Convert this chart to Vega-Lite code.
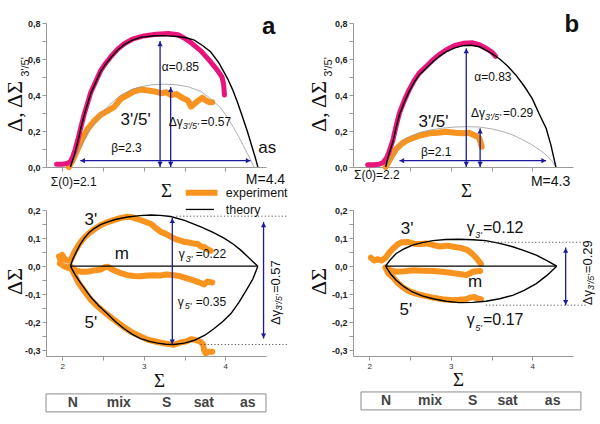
{
"$schema":"https://vega.github.io/schema/vega-lite/v6.json",
"background":"white",
"padding":{"left":3,"top":12,"right":2,"bottom":2},
"config":{"view":{"stroke":null},"font":"Liberation Sans","axis":{"grid":false}},
"datasets":{"d":[
{"p":"ta","k":"c","s":"t","x":2.10,"y":0},{"p":"ta","k":"c","s":"t","x":2.15,"y":0.07},{"p":"ta","k":"c","s":"t","x":2.19,"y":0.14},{"p":"ta","k":"c","s":"t","x":2.23,"y":0.22},{"p":"ta","k":"c","s":"t","x":2.27,"y":0.29},{"p":"ta","k":"c","s":"t","x":2.31,"y":0.35},{"p":"ta","k":"c","s":"t","x":2.35,"y":0.41},{"p":"ta","k":"c","s":"t","x":2.41,"y":0.47},{"p":"ta","k":"c","s":"t","x":2.47,"y":0.53},{"p":"ta","k":"c","s":"t","x":2.53,"y":0.57},{"p":"ta","k":"c","s":"t","x":2.60,"y":0.61},{"p":"ta","k":"c","s":"t","x":2.68,"y":0.65},{"p":"ta","k":"c","s":"t","x":2.76,"y":0.68},{"p":"ta","k":"c","s":"t","x":2.86,"y":0.705},{"p":"ta","k":"c","s":"t","x":2.96,"y":0.72},{"p":"ta","k":"c","s":"t","x":3.10,"y":0.728},{"p":"ta","k":"c","s":"t","x":3.25,"y":0.73},{"p":"ta","k":"c","s":"t","x":3.40,"y":0.725},{"p":"ta","k":"c","s":"t","x":3.52,"y":0.718},{"p":"ta","k":"c","s":"t","x":3.62,"y":0.705},{"p":"ta","k":"c","s":"t","x":3.72,"y":0.675},{"p":"ta","k":"c","s":"t","x":3.82,"y":0.64},{"p":"ta","k":"c","s":"t","x":3.92,"y":0.58},{"p":"ta","k":"c","s":"t","x":4.03,"y":0.49},{"p":"ta","k":"c","s":"t","x":4.09,"y":0.43},{"p":"ta","k":"c","s":"t","x":4.15,"y":0.36},{"p":"ta","k":"c","s":"t","x":4.21,"y":0.28},{"p":"ta","k":"c","s":"t","x":4.27,"y":0.20},{"p":"ta","k":"c","s":"t","x":4.33,"y":0.11},{"p":"ta","k":"c","s":"t","x":4.37,"y":0.05},{"p":"ta","k":"c","s":"t","x":4.40,"y":0},
{"p":"ta","k":"c","s":"p","x":1.93,"y":0.015},{"p":"ta","k":"c","s":"p","x":2.00,"y":0.015},{"p":"ta","k":"c","s":"p","x":2.06,"y":0.02},{"p":"ta","k":"c","s":"p","x":2.10,"y":0.03},{"p":"ta","k":"c","s":"p","x":2.13,"y":0.06},{"p":"ta","k":"c","s":"p","x":2.16,"y":0.10},{"p":"ta","k":"c","s":"p","x":2.19,"y":0.15},{"p":"ta","k":"c","s":"p","x":2.23,"y":0.225},{"p":"ta","k":"c","s":"p","x":2.27,"y":0.295},{"p":"ta","k":"c","s":"p","x":2.31,"y":0.355},{"p":"ta","k":"c","s":"p","x":2.35,"y":0.415},{"p":"ta","k":"c","s":"p","x":2.41,"y":0.475},{"p":"ta","k":"c","s":"p","x":2.47,"y":0.535},{"p":"ta","k":"c","s":"p","x":2.53,"y":0.575},{"p":"ta","k":"c","s":"p","x":2.60,"y":0.615},{"p":"ta","k":"c","s":"p","x":2.68,"y":0.655},{"p":"ta","k":"c","s":"p","x":2.76,"y":0.685},{"p":"ta","k":"c","s":"p","x":2.86,"y":0.71},{"p":"ta","k":"c","s":"p","x":3.00,"y":0.728},{"p":"ta","k":"c","s":"p","x":3.15,"y":0.738},{"p":"ta","k":"c","s":"p","x":3.30,"y":0.742},{"p":"ta","k":"c","s":"p","x":3.42,"y":0.735},{"p":"ta","k":"c","s":"p","x":3.50,"y":0.715},{"p":"ta","k":"c","s":"p","x":3.58,"y":0.69},{"p":"ta","k":"c","s":"p","x":3.70,"y":0.645},{"p":"ta","k":"c","s":"p","x":3.80,"y":0.595},{"p":"ta","k":"c","s":"p","x":3.90,"y":0.54},{"p":"ta","k":"c","s":"p","x":3.96,"y":0.50},{"p":"ta","k":"c","s":"p","x":3.98,"y":0.46},{"p":"ta","k":"c","s":"p","x":3.99,"y":0.40},
{"p":"ta","k":"c","s":"o","x":2.08,"y":0},{"p":"ta","k":"c","s":"o","x":2.13,"y":0.04},{"p":"ta","k":"c","s":"o","x":2.19,"y":0.10},{"p":"ta","k":"c","s":"o","x":2.25,"y":0.16},{"p":"ta","k":"c","s":"o","x":2.31,"y":0.21},{"p":"ta","k":"c","s":"o","x":2.38,"y":0.25},{"p":"ta","k":"c","s":"o","x":2.47,"y":0.29},{"p":"ta","k":"c","s":"o","x":2.55,"y":0.31},{"p":"ta","k":"c","s":"o","x":2.64,"y":0.335},{"p":"ta","k":"c","s":"o","x":2.72,"y":0.38},{"p":"ta","k":"c","s":"o","x":2.80,"y":0.40},{"p":"ta","k":"c","s":"o","x":2.88,"y":0.42},{"p":"ta","k":"c","s":"o","x":2.96,"y":0.43},{"p":"ta","k":"c","s":"o","x":3.05,"y":0.425},{"p":"ta","k":"c","s":"o","x":3.13,"y":0.42},{"p":"ta","k":"c","s":"o","x":3.21,"y":0.41},{"p":"ta","k":"c","s":"o","x":3.28,"y":0.415},{"p":"ta","k":"c","s":"o","x":3.33,"y":0.40},{"p":"ta","k":"c","s":"o","x":3.40,"y":0.405},{"p":"ta","k":"c","s":"o","x":3.49,"y":0.38},{"p":"ta","k":"c","s":"o","x":3.54,"y":0.37},{"p":"ta","k":"c","s":"o","x":3.58,"y":0.335},{"p":"ta","k":"c","s":"o","x":3.62,"y":0.35},{"p":"ta","k":"c","s":"o","x":3.67,"y":0.37},{"p":"ta","k":"c","s":"o","x":3.72,"y":0.385},{"p":"ta","k":"c","s":"o","x":3.76,"y":0.37},{"p":"ta","k":"c","s":"o","x":3.80,"y":0.36},{"p":"ta","k":"c","s":"o","x":3.84,"y":0.36},
{"p":"ta","k":"c","s":"g","x":2.10,"y":0},{"p":"ta","k":"c","s":"g","x":2.23,"y":0.12},{"p":"ta","k":"c","s":"g","x":2.35,"y":0.22},{"p":"ta","k":"c","s":"g","x":2.47,"y":0.29},{"p":"ta","k":"c","s":"g","x":2.60,"y":0.355},{"p":"ta","k":"c","s":"g","x":2.72,"y":0.40},{"p":"ta","k":"c","s":"g","x":2.85,"y":0.43},{"p":"ta","k":"c","s":"g","x":2.96,"y":0.445},{"p":"ta","k":"c","s":"g","x":3.10,"y":0.457},{"p":"ta","k":"c","s":"g","x":3.25,"y":0.46},{"p":"ta","k":"c","s":"g","x":3.40,"y":0.457},{"p":"ta","k":"c","s":"g","x":3.55,"y":0.445},{"p":"ta","k":"c","s":"g","x":3.70,"y":0.42},{"p":"ta","k":"c","s":"g","x":3.82,"y":0.38},{"p":"ta","k":"c","s":"g","x":3.94,"y":0.33},{"p":"ta","k":"c","s":"g","x":4.02,"y":0.28},{"p":"ta","k":"c","s":"g","x":4.10,"y":0.22},{"p":"ta","k":"c","s":"g","x":4.17,"y":0.165},{"p":"ta","k":"c","s":"g","x":4.23,"y":0.11},{"p":"ta","k":"c","s":"g","x":4.30,"y":0.05},{"p":"ta","k":"c","s":"g","x":4.35,"y":0},
{"p":"ta","k":"arr","x":2.22,"y":0.035,"x2":4.31,"y2":0.035},{"p":"ta","k":"arr","x":3.20,"y":0,"x2":3.20,"y2":0.70},{"p":"ta","k":"arr","x":3.33,"y":0,"x2":3.33,"y2":0.445},
{"p":"ta","k":"head","x":2.25,"y":0.035,"d":"left"},{"p":"ta","k":"head","x":4.28,"y":0.035,"d":"right"},{"p":"ta","k":"head","x":3.20,"y":0.016,"d":"down"},{"p":"ta","k":"head","x":3.20,"y":0.684,"d":"up"},{"p":"ta","k":"head","x":3.33,"y":0.016,"d":"down"},{"p":"ta","k":"head","x":3.33,"y":0.429,"d":"up"},
{"p":"ta","k":"lab","x":3.22,"y":0.556,"t":"α=0.85"},{"p":"ta","k":"lab","x":2.60,"y":0.106,"t":"β=2.3"},{"p":"ta","k":"lab","x":3.307,"y":0.25,"t":"Δγ"},{"p":"ta","k":"sub","x":3.478,"y":0.228,"t":"3'/5'"},{"p":"ta","k":"lab","x":3.70,"y":0.25,"t":"=0.57"},{"p":"ta","k":"big","x":2.90,"y":0.26,"t":"3'/5'"},{"p":"ta","k":"big","x":4.515,"y":0.105,"t":"as"},{"p":"ta","k":"lab","x":1.859,"y":-0.083,"t":"Σ(0)=2.1"},{"p":"ta","k":"m14","x":4.252,"y":-0.072,"t":"M=4.4"},{"p":"ta","k":"panel","x":4.534,"y":0.778,"t":"a"},{"p":"ta","k":"ysub","x":1.552,"y":0.556,"t":"3'/5'"},

{"p":"tb","k":"c","s":"t","x":2.20,"y":0},{"p":"tb","k":"c","s":"t","x":2.24,"y":0.07},{"p":"tb","k":"c","s":"t","x":2.29,"y":0.14},{"p":"tb","k":"c","s":"t","x":2.33,"y":0.22},{"p":"tb","k":"c","s":"t","x":2.37,"y":0.29},{"p":"tb","k":"c","s":"t","x":2.43,"y":0.36},{"p":"tb","k":"c","s":"t","x":2.49,"y":0.42},{"p":"tb","k":"c","s":"t","x":2.55,"y":0.47},{"p":"tb","k":"c","s":"t","x":2.61,"y":0.51},{"p":"tb","k":"c","s":"t","x":2.70,"y":0.55},{"p":"tb","k":"c","s":"t","x":2.78,"y":0.585},{"p":"tb","k":"c","s":"t","x":2.86,"y":0.615},{"p":"tb","k":"c","s":"t","x":2.94,"y":0.64},{"p":"tb","k":"c","s":"t","x":3.05,"y":0.662},{"p":"tb","k":"c","s":"t","x":3.15,"y":0.674},{"p":"tb","k":"c","s":"t","x":3.25,"y":0.676},{"p":"tb","k":"c","s":"t","x":3.35,"y":0.668},{"p":"tb","k":"c","s":"t","x":3.47,"y":0.64},{"p":"tb","k":"c","s":"t","x":3.60,"y":0.60},{"p":"tb","k":"c","s":"t","x":3.70,"y":0.56},{"p":"tb","k":"c","s":"t","x":3.80,"y":0.51},{"p":"tb","k":"c","s":"t","x":3.90,"y":0.45},{"p":"tb","k":"c","s":"t","x":4.00,"y":0.38},{"p":"tb","k":"c","s":"t","x":4.08,"y":0.30},{"p":"tb","k":"c","s":"t","x":4.17,"y":0.215},{"p":"tb","k":"c","s":"t","x":4.23,"y":0.12},{"p":"tb","k":"c","s":"t","x":4.29,"y":0},
{"p":"tb","k":"c","s":"p","x":1.98,"y":0.012},{"p":"tb","k":"c","s":"p","x":2.05,"y":0.012},{"p":"tb","k":"c","s":"p","x":2.12,"y":0.015},{"p":"tb","k":"c","s":"p","x":2.17,"y":0.025},{"p":"tb","k":"c","s":"p","x":2.21,"y":0.05},{"p":"tb","k":"c","s":"p","x":2.24,"y":0.08},{"p":"tb","k":"c","s":"p","x":2.29,"y":0.15},{"p":"tb","k":"c","s":"p","x":2.33,"y":0.23},{"p":"tb","k":"c","s":"p","x":2.37,"y":0.30},{"p":"tb","k":"c","s":"p","x":2.43,"y":0.37},{"p":"tb","k":"c","s":"p","x":2.49,"y":0.43},{"p":"tb","k":"c","s":"p","x":2.55,"y":0.48},{"p":"tb","k":"c","s":"p","x":2.61,"y":0.52},{"p":"tb","k":"c","s":"p","x":2.70,"y":0.56},{"p":"tb","k":"c","s":"p","x":2.78,"y":0.595},{"p":"tb","k":"c","s":"p","x":2.86,"y":0.625},{"p":"tb","k":"c","s":"p","x":2.94,"y":0.65},{"p":"tb","k":"c","s":"p","x":3.05,"y":0.675},{"p":"tb","k":"c","s":"p","x":3.15,"y":0.687},{"p":"tb","k":"c","s":"p","x":3.27,"y":0.69},{"p":"tb","k":"c","s":"p","x":3.35,"y":0.68},{"p":"tb","k":"c","s":"p","x":3.43,"y":0.66},{"p":"tb","k":"c","s":"p","x":3.50,"y":0.64},{"p":"tb","k":"c","s":"p","x":3.55,"y":0.615},
{"p":"tb","k":"c","s":"o","x":2.20,"y":0},{"p":"tb","k":"c","s":"o","x":2.25,"y":0.04},{"p":"tb","k":"c","s":"o","x":2.29,"y":0.07},{"p":"tb","k":"c","s":"o","x":2.33,"y":0.10},{"p":"tb","k":"c","s":"o","x":2.40,"y":0.13},{"p":"tb","k":"c","s":"o","x":2.47,"y":0.15},{"p":"tb","k":"c","s":"o","x":2.53,"y":0.16},{"p":"tb","k":"c","s":"o","x":2.62,"y":0.175},{"p":"tb","k":"c","s":"o","x":2.74,"y":0.187},{"p":"tb","k":"c","s":"o","x":2.84,"y":0.19},{"p":"tb","k":"c","s":"o","x":2.94,"y":0.196},{"p":"tb","k":"c","s":"o","x":3.05,"y":0.19},{"p":"tb","k":"c","s":"o","x":3.15,"y":0.187},{"p":"tb","k":"c","s":"o","x":3.22,"y":0.19},{"p":"tb","k":"c","s":"o","x":3.27,"y":0.18},{"p":"tb","k":"c","s":"o","x":3.32,"y":0.17},{"p":"tb","k":"c","s":"o","x":3.35,"y":0.16},{"p":"tb","k":"c","s":"o","x":3.37,"y":0.13},{"p":"tb","k":"c","s":"o","x":3.38,"y":0.113},
{"p":"tb","k":"c","s":"g","x":2.20,"y":0},{"p":"tb","k":"c","s":"g","x":2.28,"y":0.06},{"p":"tb","k":"c","s":"g","x":2.35,"y":0.11},{"p":"tb","k":"c","s":"g","x":2.41,"y":0.14},{"p":"tb","k":"c","s":"g","x":2.50,"y":0.17},{"p":"tb","k":"c","s":"g","x":2.62,"y":0.192},{"p":"tb","k":"c","s":"g","x":2.74,"y":0.205},{"p":"tb","k":"c","s":"g","x":2.90,"y":0.216},{"p":"tb","k":"c","s":"g","x":3.05,"y":0.222},{"p":"tb","k":"c","s":"g","x":3.20,"y":0.224},{"p":"tb","k":"c","s":"g","x":3.35,"y":0.222},{"p":"tb","k":"c","s":"g","x":3.50,"y":0.212},{"p":"tb","k":"c","s":"g","x":3.65,"y":0.195},{"p":"tb","k":"c","s":"g","x":3.76,"y":0.178},{"p":"tb","k":"c","s":"g","x":3.88,"y":0.152},{"p":"tb","k":"c","s":"g","x":4.00,"y":0.122},{"p":"tb","k":"c","s":"g","x":4.10,"y":0.092},{"p":"tb","k":"c","s":"g","x":4.17,"y":0.067},{"p":"tb","k":"c","s":"g","x":4.24,"y":0.035},{"p":"tb","k":"c","s":"g","x":4.29,"y":0},
{"p":"tb","k":"arr","x":2.37,"y":0.035,"x2":4.17,"y2":0.035},{"p":"tb","k":"arr","x":3.19,"y":0,"x2":3.19,"y2":0.66},{"p":"tb","k":"arr","x":3.36,"y":0,"x2":3.36,"y2":0.215},
{"p":"tb","k":"head","x":2.40,"y":0.035,"d":"left"},{"p":"tb","k":"head","x":4.14,"y":0.035,"d":"right"},{"p":"tb","k":"head","x":3.19,"y":0.016,"d":"down"},{"p":"tb","k":"head","x":3.19,"y":0.644,"d":"up"},{"p":"tb","k":"head","x":3.36,"y":0.016,"d":"down"},{"p":"tb","k":"head","x":3.36,"y":0.199,"d":"up"},
{"p":"tb","k":"lab","x":3.288,"y":0.502,"t":"α=0.83"},{"p":"tb","k":"lab","x":2.634,"y":0.085,"t":"β=2.1"},{"p":"tb","k":"lab","x":3.248,"y":0.298,"t":"Δγ"},{"p":"tb","k":"sub","x":3.419,"y":0.276,"t":"3'/5'"},{"p":"tb","k":"lab","x":3.64,"y":0.298,"t":"=0.29"},{"p":"tb","k":"big","x":2.788,"y":0.252,"t":"3'/5'"},{"p":"tb","k":"lab","x":1.812,"y":-0.044,"t":"Σ(0)=2.2"},{"p":"tb","k":"m14","x":3.984,"y":-0.082,"t":"M=4.3"},{"p":"tb","k":"panel","x":4.487,"y":0.789,"t":"b"},{"p":"tb","k":"ysub","x":1.505,"y":0.556,"t":"3'/5'"},

{"p":"ba","k":"c","s":"u","x":2.10,"y":0},{"p":"ba","k":"c","s":"u","x":2.13,"y":0.025},{"p":"ba","k":"c","s":"u","x":2.17,"y":0.05},{"p":"ba","k":"c","s":"u","x":2.22,"y":0.078},{"p":"ba","k":"c","s":"u","x":2.27,"y":0.10},{"p":"ba","k":"c","s":"u","x":2.33,"y":0.12},{"p":"ba","k":"c","s":"u","x":2.39,"y":0.134},{"p":"ba","k":"c","s":"u","x":2.47,"y":0.148},{"p":"ba","k":"c","s":"u","x":2.55,"y":0.157},{"p":"ba","k":"c","s":"u","x":2.65,"y":0.166},{"p":"ba","k":"c","s":"u","x":2.80,"y":0.175},{"p":"ba","k":"c","s":"u","x":2.95,"y":0.18},{"p":"ba","k":"c","s":"u","x":3.09,"y":0.182},{"p":"ba","k":"c","s":"u","x":3.20,"y":0.181},{"p":"ba","k":"c","s":"u","x":3.33,"y":0.177},{"p":"ba","k":"c","s":"u","x":3.50,"y":0.163},{"p":"ba","k":"c","s":"u","x":3.70,"y":0.14},{"p":"ba","k":"c","s":"u","x":3.85,"y":0.12},{"p":"ba","k":"c","s":"u","x":3.99,"y":0.099},{"p":"ba","k":"c","s":"u","x":4.10,"y":0.078},{"p":"ba","k":"c","s":"u","x":4.19,"y":0.057},{"p":"ba","k":"c","s":"u","x":4.27,"y":0.035},{"p":"ba","k":"c","s":"u","x":4.34,"y":0.016},{"p":"ba","k":"c","s":"u","x":4.40,"y":0},
{"p":"ba","k":"c","s":"l","x":2.10,"y":0},{"p":"ba","k":"c","s":"l","x":2.16,"y":-0.032},{"p":"ba","k":"c","s":"l","x":2.23,"y":-0.062},{"p":"ba","k":"c","s":"l","x":2.35,"y":-0.11},{"p":"ba","k":"c","s":"l","x":2.45,"y":-0.142},{"p":"ba","k":"c","s":"l","x":2.55,"y":-0.169},{"p":"ba","k":"c","s":"l","x":2.65,"y":-0.197},{"p":"ba","k":"c","s":"l","x":2.76,"y":-0.223},{"p":"ba","k":"c","s":"l","x":2.86,"y":-0.243},{"p":"ba","k":"c","s":"l","x":2.96,"y":-0.258},{"p":"ba","k":"c","s":"l","x":3.07,"y":-0.268},{"p":"ba","k":"c","s":"l","x":3.17,"y":-0.274},{"p":"ba","k":"c","s":"l","x":3.27,"y":-0.278},{"p":"ba","k":"c","s":"l","x":3.37,"y":-0.279},{"p":"ba","k":"c","s":"l","x":3.50,"y":-0.274},{"p":"ba","k":"c","s":"l","x":3.62,"y":-0.264},{"p":"ba","k":"c","s":"l","x":3.75,"y":-0.246},{"p":"ba","k":"c","s":"l","x":3.86,"y":-0.223},{"p":"ba","k":"c","s":"l","x":3.97,"y":-0.197},{"p":"ba","k":"c","s":"l","x":4.07,"y":-0.169},{"p":"ba","k":"c","s":"l","x":4.17,"y":-0.128},{"p":"ba","k":"c","s":"l","x":4.27,"y":-0.08},{"p":"ba","k":"c","s":"l","x":4.34,"y":-0.045},{"p":"ba","k":"c","s":"l","x":4.40,"y":0},
{"p":"ba","k":"c","s":"m","x":2.10,"y":0},{"p":"ba","k":"c","s":"m","x":4.40,"y":0},
{"p":"ba","k":"c","s":"o3","x":1.96,"y":0.035},{"p":"ba","k":"c","s":"o3","x":1.98,"y":0.02},{"p":"ba","k":"c","s":"o3","x":2.00,"y":0.04},{"p":"ba","k":"c","s":"o3","x":2.03,"y":0.025},{"p":"ba","k":"c","s":"o3","x":2.06,"y":0.02},{"p":"ba","k":"c","s":"o3","x":2.10,"y":0.02},{"p":"ba","k":"c","s":"o3","x":2.15,"y":0.05},{"p":"ba","k":"c","s":"o3","x":2.20,"y":0.075},{"p":"ba","k":"c","s":"o3","x":2.25,"y":0.095},{"p":"ba","k":"c","s":"o3","x":2.30,"y":0.11},{"p":"ba","k":"c","s":"o3","x":2.35,"y":0.122},{"p":"ba","k":"c","s":"o3","x":2.41,"y":0.135},{"p":"ba","k":"c","s":"o3","x":2.47,"y":0.146},{"p":"ba","k":"c","s":"o3","x":2.55,"y":0.156},{"p":"ba","k":"c","s":"o3","x":2.64,"y":0.165},{"p":"ba","k":"c","s":"o3","x":2.72,"y":0.172},{"p":"ba","k":"c","s":"o3","x":2.80,"y":0.176},{"p":"ba","k":"c","s":"o3","x":2.86,"y":0.174},{"p":"ba","k":"c","s":"o3","x":2.92,"y":0.168},{"p":"ba","k":"c","s":"o3","x":3.00,"y":0.16},{"p":"ba","k":"c","s":"o3","x":3.09,"y":0.15},{"p":"ba","k":"c","s":"o3","x":3.15,"y":0.135},{"p":"ba","k":"c","s":"o3","x":3.21,"y":0.122},{"p":"ba","k":"c","s":"o3","x":3.27,"y":0.115},{"p":"ba","k":"c","s":"o3","x":3.33,"y":0.105},{"p":"ba","k":"c","s":"o3","x":3.40,"y":0.095},{"p":"ba","k":"c","s":"o3","x":3.49,"y":0.087},{"p":"ba","k":"c","s":"o3","x":3.56,"y":0.084},{"p":"ba","k":"c","s":"o3","x":3.62,"y":0.08},{"p":"ba","k":"c","s":"o3","x":3.66,"y":0.08},{"p":"ba","k":"c","s":"o3","x":3.70,"y":0.07},{"p":"ba","k":"c","s":"o3","x":3.74,"y":0.068},{"p":"ba","k":"c","s":"o3","x":3.78,"y":0.06},{"p":"ba","k":"c","s":"o3","x":3.82,"y":0.055},
{"p":"ba","k":"c","s":"om","x":1.97,"y":0.01},{"p":"ba","k":"c","s":"om","x":2.02,"y":0},{"p":"ba","k":"c","s":"om","x":2.06,"y":-0.005},{"p":"ba","k":"c","s":"om","x":2.10,"y":-0.008},{"p":"ba","k":"c","s":"om","x":2.17,"y":-0.015},{"p":"ba","k":"c","s":"om","x":2.23,"y":-0.02},{"p":"ba","k":"c","s":"om","x":2.30,"y":-0.02},{"p":"ba","k":"c","s":"om","x":2.38,"y":-0.016},{"p":"ba","k":"c","s":"om","x":2.47,"y":-0.012},{"p":"ba","k":"c","s":"om","x":2.52,"y":-0.004},{"p":"ba","k":"c","s":"om","x":2.56,"y":-0.002},{"p":"ba","k":"c","s":"om","x":2.60,"y":-0.01},{"p":"ba","k":"c","s":"om","x":2.66,"y":-0.018},{"p":"ba","k":"c","s":"om","x":2.73,"y":-0.026},{"p":"ba","k":"c","s":"om","x":2.80,"y":-0.032},{"p":"ba","k":"c","s":"om","x":2.88,"y":-0.035},{"p":"ba","k":"c","s":"om","x":2.96,"y":-0.036},{"p":"ba","k":"c","s":"om","x":3.05,"y":-0.033},{"p":"ba","k":"c","s":"om","x":3.12,"y":-0.032},{"p":"ba","k":"c","s":"om","x":3.20,"y":-0.033},{"p":"ba","k":"c","s":"om","x":3.28,"y":-0.03},{"p":"ba","k":"c","s":"om","x":3.37,"y":-0.032},{"p":"ba","k":"c","s":"om","x":3.45,"y":-0.036},{"p":"ba","k":"c","s":"om","x":3.54,"y":-0.044},{"p":"ba","k":"c","s":"om","x":3.60,"y":-0.05},{"p":"ba","k":"c","s":"om","x":3.66,"y":-0.056},{"p":"ba","k":"c","s":"om","x":3.70,"y":-0.06},{"p":"ba","k":"c","s":"om","x":3.74,"y":-0.065},{"p":"ba","k":"c","s":"om","x":3.78,"y":-0.055},{"p":"ba","k":"c","s":"om","x":3.84,"y":-0.058},
{"p":"ba","k":"c","s":"o5","x":2.10,"y":0},{"p":"ba","k":"c","s":"o5","x":2.15,"y":-0.03},{"p":"ba","k":"c","s":"o5","x":2.20,"y":-0.06},{"p":"ba","k":"c","s":"o5","x":2.25,"y":-0.08},{"p":"ba","k":"c","s":"o5","x":2.30,"y":-0.10},{"p":"ba","k":"c","s":"o5","x":2.35,"y":-0.12},{"p":"ba","k":"c","s":"o5","x":2.42,"y":-0.14},{"p":"ba","k":"c","s":"o5","x":2.48,"y":-0.155},{"p":"ba","k":"c","s":"o5","x":2.55,"y":-0.172},{"p":"ba","k":"c","s":"o5","x":2.62,"y":-0.188},{"p":"ba","k":"c","s":"o5","x":2.70,"y":-0.205},{"p":"ba","k":"c","s":"o5","x":2.76,"y":-0.218},{"p":"ba","k":"c","s":"o5","x":2.85,"y":-0.235},{"p":"ba","k":"c","s":"o5","x":2.96,"y":-0.25},{"p":"ba","k":"c","s":"o5","x":3.05,"y":-0.262},{"p":"ba","k":"c","s":"o5","x":3.17,"y":-0.27},{"p":"ba","k":"c","s":"o5","x":3.27,"y":-0.276},{"p":"ba","k":"c","s":"o5","x":3.37,"y":-0.28},{"p":"ba","k":"c","s":"o5","x":3.45,"y":-0.272},{"p":"ba","k":"c","s":"o5","x":3.52,"y":-0.268},{"p":"ba","k":"c","s":"o5","x":3.58,"y":-0.26},{"p":"ba","k":"c","s":"o5","x":3.62,"y":-0.262},{"p":"ba","k":"c","s":"o5","x":3.66,"y":-0.265},{"p":"ba","k":"c","s":"o5","x":3.70,"y":-0.27},{"p":"ba","k":"c","s":"o5","x":3.73,"y":-0.28},{"p":"ba","k":"c","s":"o5","x":3.74,"y":-0.30},{"p":"ba","k":"c","s":"o5","x":3.76,"y":-0.31},{"p":"ba","k":"c","s":"o5","x":3.80,"y":-0.305},{"p":"ba","k":"c","s":"o5","x":3.84,"y":-0.305},
{"p":"ba","k":"arr","x":3.35,"y":0.172,"x2":3.35,"y2":-0.279},{"p":"ba","k":"arr","x":4.47,"y":0.157,"x2":4.47,"y2":-0.258},
{"p":"ba","k":"head","x":3.35,"y":0.162,"d":"up"},{"p":"ba","k":"head","x":3.35,"y":-0.269,"d":"down"},{"p":"ba","k":"head","x":4.47,"y":0.147,"d":"up"},{"p":"ba","k":"head","x":4.47,"y":-0.248,"d":"down"},
{"p":"ba","k":"dot","x":3.40,"x2":4.77,"y":0.178},{"p":"ba","k":"dot","x":3.70,"x2":4.77,"y":-0.279},
{"p":"ba","k":"lego","x":3.515,"x2":3.905,"y":0.261},{"p":"ba","k":"legt","x":3.515,"x2":3.862,"y":0.202},
{"p":"ba","k":"leg","x":4.006,"y":0.259,"t":"experiment"},{"p":"ba","k":"leg","x":4.006,"y":0.201,"t":"theory"},
{"p":"ba","k":"big","x":2.35,"y":0.164,"t":"3'"},{"p":"ba","k":"big","x":2.73,"y":0.043,"t":"m"},{"p":"ba","k":"big","x":2.35,"y":-0.203,"t":"5'"},
{"p":"ba","k":"lab","x":3.43,"y":0.043,"t":"γ"},{"p":"ba","k":"sub","x":3.515,"y":0.027,"t":"3'"},{"p":"ba","k":"lab","x":3.638,"y":0.043,"t":"=0.22"},
{"p":"ba","k":"lab","x":3.417,"y":-0.128,"t":"γ"},{"p":"ba","k":"sub","x":3.503,"y":-0.142,"t":"5'"},{"p":"ba","k":"lab","x":3.638,"y":-0.128,"t":"=0.35"},
{"p":"ba","k":"rot","x":4.62,"y":-0.21,"t":"Δγ"},{"p":"ba","k":"rotsub","x":4.656,"y":-0.157,"t":"3'/5'"},{"p":"ba","k":"rot","x":4.62,"y":-0.096,"t":"=0.57"},
{"p":"ba","k":"box","x":1.8,"x2":4.5,"y":-0.455,"y2":-0.519},
{"p":"ba","k":"boxt","x":2.129,"y":-0.487,"t":"N"},{"p":"ba","k":"boxt","x":2.693,"y":-0.487,"t":"mix"},{"p":"ba","k":"boxt","x":3.282,"y":-0.487,"t":"S"},{"p":"ba","k":"boxt","x":3.736,"y":-0.487,"t":"sat"},{"p":"ba","k":"boxt","x":4.276,"y":-0.487,"t":"as"},

{"p":"bb","k":"c","s":"u","x":2.20,"y":0},{"p":"bb","k":"c","s":"u","x":2.25,"y":0.02},{"p":"bb","k":"c","s":"u","x":2.33,"y":0.045},{"p":"bb","k":"c","s":"u","x":2.43,"y":0.062},{"p":"bb","k":"c","s":"u","x":2.53,"y":0.075},{"p":"bb","k":"c","s":"u","x":2.65,"y":0.084},{"p":"bb","k":"c","s":"u","x":2.78,"y":0.091},{"p":"bb","k":"c","s":"u","x":2.94,"y":0.095},{"p":"bb","k":"c","s":"u","x":3.10,"y":0.096},{"p":"bb","k":"c","s":"u","x":3.27,"y":0.094},{"p":"bb","k":"c","s":"u","x":3.43,"y":0.091},{"p":"bb","k":"c","s":"u","x":3.60,"y":0.081},{"p":"bb","k":"c","s":"u","x":3.76,"y":0.069},{"p":"bb","k":"c","s":"u","x":3.90,"y":0.055},{"p":"bb","k":"c","s":"u","x":4.05,"y":0.039},{"p":"bb","k":"c","s":"u","x":4.18,"y":0.02},{"p":"bb","k":"c","s":"u","x":4.30,"y":0},
{"p":"bb","k":"c","s":"l","x":2.20,"y":0},{"p":"bb","k":"c","s":"l","x":2.26,"y":-0.027},{"p":"bb","k":"c","s":"l","x":2.33,"y":-0.05},{"p":"bb","k":"c","s":"l","x":2.43,"y":-0.074},{"p":"bb","k":"c","s":"l","x":2.53,"y":-0.092},{"p":"bb","k":"c","s":"l","x":2.65,"y":-0.106},{"p":"bb","k":"c","s":"l","x":2.78,"y":-0.116},{"p":"bb","k":"c","s":"l","x":2.94,"y":-0.125},{"p":"bb","k":"c","s":"l","x":3.10,"y":-0.13},{"p":"bb","k":"c","s":"l","x":3.27,"y":-0.129},{"p":"bb","k":"c","s":"l","x":3.43,"y":-0.125},{"p":"bb","k":"c","s":"l","x":3.60,"y":-0.116},{"p":"bb","k":"c","s":"l","x":3.76,"y":-0.104},{"p":"bb","k":"c","s":"l","x":3.90,"y":-0.086},{"p":"bb","k":"c","s":"l","x":4.05,"y":-0.062},{"p":"bb","k":"c","s":"l","x":4.18,"y":-0.033},{"p":"bb","k":"c","s":"l","x":4.30,"y":0},
{"p":"bb","k":"c","s":"m","x":2.20,"y":0},{"p":"bb","k":"c","s":"m","x":4.30,"y":0},
{"p":"bb","k":"c","s":"o3","x":2.02,"y":0.03},{"p":"bb","k":"c","s":"o3","x":2.06,"y":0.02},{"p":"bb","k":"c","s":"o3","x":2.10,"y":0.025},{"p":"bb","k":"c","s":"o3","x":2.15,"y":0.02},{"p":"bb","k":"c","s":"o3","x":2.20,"y":0.03},{"p":"bb","k":"c","s":"o3","x":2.25,"y":0.05},{"p":"bb","k":"c","s":"o3","x":2.30,"y":0.065},{"p":"bb","k":"c","s":"o3","x":2.35,"y":0.078},{"p":"bb","k":"c","s":"o3","x":2.40,"y":0.085},{"p":"bb","k":"c","s":"o3","x":2.47,"y":0.086},{"p":"bb","k":"c","s":"o3","x":2.55,"y":0.08},{"p":"bb","k":"c","s":"o3","x":2.62,"y":0.079},{"p":"bb","k":"c","s":"o3","x":2.70,"y":0.081},{"p":"bb","k":"c","s":"o3","x":2.78,"y":0.076},{"p":"bb","k":"c","s":"o3","x":2.86,"y":0.07},{"p":"bb","k":"c","s":"o3","x":2.95,"y":0.073},{"p":"bb","k":"c","s":"o3","x":3.05,"y":0.068},{"p":"bb","k":"c","s":"o3","x":3.12,"y":0.065},{"p":"bb","k":"c","s":"o3","x":3.20,"y":0.058},{"p":"bb","k":"c","s":"o3","x":3.26,"y":0.045},{"p":"bb","k":"c","s":"o3","x":3.31,"y":0.03},{"p":"bb","k":"c","s":"o3","x":3.35,"y":0.015},{"p":"bb","k":"c","s":"o3","x":3.37,"y":0.008},
{"p":"bb","k":"c","s":"om","x":2.20,"y":-0.005},{"p":"bb","k":"c","s":"om","x":2.26,"y":-0.015},{"p":"bb","k":"c","s":"om","x":2.33,"y":-0.02},{"p":"bb","k":"c","s":"om","x":2.43,"y":-0.018},{"p":"bb","k":"c","s":"om","x":2.53,"y":-0.015},{"p":"bb","k":"c","s":"om","x":2.65,"y":-0.016},{"p":"bb","k":"c","s":"om","x":2.78,"y":-0.017},{"p":"bb","k":"c","s":"om","x":2.90,"y":-0.02},{"p":"bb","k":"c","s":"om","x":3.06,"y":-0.026},{"p":"bb","k":"c","s":"om","x":3.15,"y":-0.03},{"p":"bb","k":"c","s":"om","x":3.19,"y":-0.032},{"p":"bb","k":"c","s":"om","x":3.24,"y":-0.025},{"p":"bb","k":"c","s":"om","x":3.27,"y":-0.02},{"p":"bb","k":"c","s":"om","x":3.32,"y":-0.018},{"p":"bb","k":"c","s":"om","x":3.36,"y":-0.017},
{"p":"bb","k":"c","s":"o5","x":2.20,"y":-0.005},{"p":"bb","k":"c","s":"o5","x":2.23,"y":-0.025},{"p":"bb","k":"c","s":"o5","x":2.29,"y":-0.04},{"p":"bb","k":"c","s":"o5","x":2.35,"y":-0.06},{"p":"bb","k":"c","s":"o5","x":2.41,"y":-0.075},{"p":"bb","k":"c","s":"o5","x":2.48,"y":-0.088},{"p":"bb","k":"c","s":"o5","x":2.57,"y":-0.098},{"p":"bb","k":"c","s":"o5","x":2.68,"y":-0.106},{"p":"bb","k":"c","s":"o5","x":2.78,"y":-0.112},{"p":"bb","k":"c","s":"o5","x":2.90,"y":-0.118},{"p":"bb","k":"c","s":"o5","x":3.02,"y":-0.121},{"p":"bb","k":"c","s":"o5","x":3.10,"y":-0.12},{"p":"bb","k":"c","s":"o5","x":3.19,"y":-0.118},{"p":"bb","k":"c","s":"o5","x":3.24,"y":-0.112},{"p":"bb","k":"c","s":"o5","x":3.29,"y":-0.11},{"p":"bb","k":"c","s":"o5","x":3.33,"y":-0.116},{"p":"bb","k":"c","s":"o5","x":3.37,"y":-0.118},
{"p":"bb","k":"arr","x":4.41,"y":0.066,"x2":4.41,"y2":-0.139},
{"p":"bb","k":"head","x":4.41,"y":0.056,"d":"up"},{"p":"bb","k":"head","x":4.41,"y":-0.129,"d":"down"},
{"p":"bb","k":"dot","x":3.41,"x2":4.66,"y":0.085},{"p":"bb","k":"dot","x":3.43,"x2":4.66,"y":-0.139},
{"p":"bb","k":"big","x":2.464,"y":0.132,"t":"3'"},{"p":"bb","k":"big","x":3.297,"y":-0.056,"t":"m"},{"p":"bb","k":"big","x":2.45,"y":-0.157,"t":"5'"},
{"p":"bb","k":"g16","x":3.195,"y":0.136,"t":"γ"},{"p":"bb","k":"sub","x":3.30,"y":0.110,"t":"3'"},{"p":"bb","k":"g16","x":3.395,"y":0.136,"t":"=0.12"},
{"p":"bb","k":"g16","x":3.195,"y":-0.192,"t":"γ"},{"p":"bb","k":"sub","x":3.30,"y":-0.220,"t":"5'"},{"p":"bb","k":"g16","x":3.395,"y":-0.192,"t":"=0.17"},
{"p":"bb","k":"rot","x":4.68,"y":-0.139,"t":"Δγ"},{"p":"bb","k":"rotsub","x":4.717,"y":-0.085,"t":"3'/5'"},{"p":"bb","k":"rot","x":4.68,"y":-0.025,"t":"=0.29"},
{"p":"bb","k":"box","x":1.898,"x2":4.597,"y":-0.448,"y2":-0.512},
{"p":"bb","k":"boxt","x":2.205,"y":-0.48,"t":"N"},{"p":"bb","k":"boxt","x":2.745,"y":-0.48,"t":"mix"},{"p":"bb","k":"boxt","x":3.269,"y":-0.48,"t":"S"},{"p":"bb","k":"boxt","x":3.698,"y":-0.48,"t":"sat"},{"p":"bb","k":"boxt","x":4.25,"y":-0.48,"t":"as"}
]},
"columns":2,
"spacing":{"row":43,"column":87},
"bounds":"flush",
"concat":[
{"width":220,"height":144,"view":{"stroke":null},"data":{"name":"d"},"transform":[{"filter":"datum.p=='ta'"}],
"encoding":{
"x":{"field":"x","type":"quantitative","scale":{"domain":[1.8,4.5],"nice":false,"zero":false},"axis":{"values":[2,2.5,3,3.5,4],"labels":false,"tickSize":4,"tickColor":"#999","domainColor":"#999","title":"Σ","titleFont":"Liberation Serif","titleFontSize":19,"titleFontWeight":"normal","titleColor":"#111","titleX":120,"titleY":23,"titleAlign":"center","titleBaseline":"middle","grid":false}},
"y":{"field":"y","type":"quantitative","scale":{"domain":[0,0.8],"nice":false,"zero":false},"axis":{"values":[0,0.1,0.2,0.3,0.4,0.5,0.6,0.7,0.8],"labelExpr":"round(datum.value*10)%2==0 ? replace(format(datum.value,'.1f'),'.',',') : ''","labelFont":"Liberation Sans","labelFontSize":9,"labelFontWeight":"bold","labelColor":"#222","labelPadding":2,"labelOverlap":false,"labelFlush":false,"tickSize":4,"tickColor":"#999","domainColor":"#999","title":"Δ,  ΔΣ","titleFont":"Liberation Serif","titleFontSize":22,"titleFontWeight":"normal","titleColor":"#111","titleX":-32,"titleY":83,"titleAngle":270,"titleAlign":"center","titleBaseline":"middle","grid":false}}},
"layer":[
{"transform":[{"filter":"datum.k=='c'&&indexof(datum.s,'o')==0"}],"mark":{"type":"line","color":"#F7931E","strokeWidth":6,"strokeCap":"round","strokeJoin":"round"},"encoding":{"detail":{"field":"s"}}},
{"transform":[{"filter":"datum.k=='c'&&datum.s=='p'"}],"mark":{"type":"line","color":"#E8157C","strokeWidth":5,"strokeCap":"round","strokeJoin":"round"},"encoding":{}},
{"transform":[{"filter":"datum.k=='c'&&datum.s=='g'"}],"mark":{"type":"line","color":"#999999","strokeWidth":0.8},"encoding":{}},
{"transform":[{"filter":"datum.k=='c'&&(datum.s=='t'||datum.s=='u'||datum.s=='l'||datum.s=='m')"}],"mark":{"type":"line","color":"#000000","strokeWidth":1.4},"encoding":{"detail":{"field":"s"}}},
{"transform":[{"filter":"datum.k=='arr'"}],"mark":{"type":"rule","color":"#1a1a9e","strokeWidth":1.3},"encoding":{"x2":{"field":"x2"},"y2":{"field":"y2"}}},
{"transform":[{"filter":"datum.k=='head'"}],"mark":{"type":"point","filled":true,"opacity":1,"color":"#1a1a9e","size":28},"encoding":{"shape":{"field":"d","type":"nominal","scale":{"domain":["up","down","left","right"],"range":["triangle-up","triangle-down","triangle-left","triangle-right"]},"legend":null}}},
{"transform":[{"filter":"datum.k=='lab'"}],"mark":{"type":"text","font":"Liberation Sans","fontSize":12,"align":"left","baseline":"middle","color":"#111"},"encoding":{"text":{"field":"t"}}},
{"transform":[{"filter":"datum.k=='big'"}],"mark":{"type":"text","font":"Liberation Sans","fontSize":17,"align":"center","baseline":"middle","color":"#111"},"encoding":{"text":{"field":"t"}}},
{"transform":[{"filter":"datum.k=='sub'"}],"mark":{"type":"text","font":"Liberation Sans","fontSize":9,"fontStyle":"italic","align":"left","baseline":"middle","color":"#111"},"encoding":{"text":{"field":"t"}}},
{"transform":[{"filter":"datum.k=='m14'"}],"mark":{"type":"text","font":"Liberation Sans","fontSize":14,"align":"left","baseline":"middle","color":"#111"},"encoding":{"text":{"field":"t"}}},
{"transform":[{"filter":"datum.k=='panel'"}],"mark":{"type":"text","font":"Liberation Sans","fontSize":24,"fontWeight":"bold","align":"center","baseline":"middle","color":"#111"},"encoding":{"text":{"field":"t"}}},
{"transform":[{"filter":"datum.k=='ysub'"}],"mark":{"type":"text","font":"Liberation Sans","fontSize":11,"angle":270,"align":"center","baseline":"middle","color":"#111"},"encoding":{"text":{"field":"t"}}}
]},
{"width":220,"height":144,"view":{"stroke":null},"data":{"name":"d"},"transform":[{"filter":"datum.p=='tb'"}],
"encoding":{
"x":{"field":"x","type":"quantitative","scale":{"domain":[1.8,4.5],"nice":false,"zero":false},"axis":{"values":[2,2.5,3,3.5,4],"labels":false,"tickSize":4,"tickColor":"#999","domainColor":"#999","title":"Σ","titleFont":"Liberation Serif","titleFontSize":19,"titleFontWeight":"normal","titleColor":"#111","titleX":113,"titleY":23,"titleAlign":"center","titleBaseline":"middle","grid":false}},
"y":{"field":"y","type":"quantitative","scale":{"domain":[0,0.8],"nice":false,"zero":false},"axis":{"values":[0,0.1,0.2,0.3,0.4,0.5,0.6,0.7,0.8],"labelExpr":"round(datum.value*10)%2==0 ? replace(format(datum.value,'.1f'),'.',',') : ''","labelFont":"Liberation Sans","labelFontSize":9,"labelFontWeight":"bold","labelColor":"#222","labelPadding":2,"labelOverlap":false,"labelFlush":false,"tickSize":4,"tickColor":"#999","domainColor":"#999","title":"Δ,  ΔΣ","titleFont":"Liberation Serif","titleFontSize":22,"titleFontWeight":"normal","titleColor":"#111","titleX":-35,"titleY":83,"titleAngle":270,"titleAlign":"center","titleBaseline":"middle","grid":false}}},
"layer":[
{"transform":[{"filter":"datum.k=='c'&&indexof(datum.s,'o')==0"}],"mark":{"type":"line","color":"#F7931E","strokeWidth":6,"strokeCap":"round","strokeJoin":"round"},"encoding":{"detail":{"field":"s"}}},
{"transform":[{"filter":"datum.k=='c'&&datum.s=='p'"}],"mark":{"type":"line","color":"#E8157C","strokeWidth":5,"strokeCap":"round","strokeJoin":"round"},"encoding":{}},
{"transform":[{"filter":"datum.k=='c'&&datum.s=='g'"}],"mark":{"type":"line","color":"#999999","strokeWidth":0.8},"encoding":{}},
{"transform":[{"filter":"datum.k=='c'&&(datum.s=='t'||datum.s=='u'||datum.s=='l'||datum.s=='m')"}],"mark":{"type":"line","color":"#000000","strokeWidth":1.4},"encoding":{"detail":{"field":"s"}}},
{"transform":[{"filter":"datum.k=='arr'"}],"mark":{"type":"rule","color":"#1a1a9e","strokeWidth":1.3},"encoding":{"x2":{"field":"x2"},"y2":{"field":"y2"}}},
{"transform":[{"filter":"datum.k=='head'"}],"mark":{"type":"point","filled":true,"opacity":1,"color":"#1a1a9e","size":28},"encoding":{"shape":{"field":"d","type":"nominal","scale":{"domain":["up","down","left","right"],"range":["triangle-up","triangle-down","triangle-left","triangle-right"]},"legend":null}}},
{"transform":[{"filter":"datum.k=='lab'"}],"mark":{"type":"text","font":"Liberation Sans","fontSize":12,"align":"left","baseline":"middle","color":"#111"},"encoding":{"text":{"field":"t"}}},
{"transform":[{"filter":"datum.k=='big'"}],"mark":{"type":"text","font":"Liberation Sans","fontSize":17,"align":"center","baseline":"middle","color":"#111"},"encoding":{"text":{"field":"t"}}},
{"transform":[{"filter":"datum.k=='sub'"}],"mark":{"type":"text","font":"Liberation Sans","fontSize":9,"fontStyle":"italic","align":"left","baseline":"middle","color":"#111"},"encoding":{"text":{"field":"t"}}},
{"transform":[{"filter":"datum.k=='m14'"}],"mark":{"type":"text","font":"Liberation Sans","fontSize":14,"align":"left","baseline":"middle","color":"#111"},"encoding":{"text":{"field":"t"}}},
{"transform":[{"filter":"datum.k=='panel'"}],"mark":{"type":"text","font":"Liberation Sans","fontSize":24,"fontWeight":"bold","align":"center","baseline":"middle","color":"#111"},"encoding":{"text":{"field":"t"}}},
{"transform":[{"filter":"datum.k=='ysub'"}],"mark":{"type":"text","font":"Liberation Sans","fontSize":11,"angle":270,"align":"center","baseline":"middle","color":"#111"},"encoding":{"text":{"field":"t"}}}
]},
{"width":220,"height":146,"view":{"stroke":null},"data":{"name":"d"},"transform":[{"filter":"datum.p=='ba'"}],
"encoding":{
"x":{"field":"x","type":"quantitative","scale":{"domain":[1.8,4.5],"nice":false,"zero":false},"axis":{"values":[2,2.5,3,3.5,4],"labelExpr":"datum.value%1==0 ? format(datum.value,'d') : ''","labelFont":"Liberation Sans","labelFontSize":8,"labelColor":"#333","labelPadding":2,"labelOverlap":false,"labelFlush":false,"tickSize":4,"tickColor":"#999","domainColor":"#999","title":"Σ","titleFont":"Liberation Serif","titleFontSize":19,"titleFontWeight":"normal","titleColor":"#111","titleX":113,"titleY":24,"titleAlign":"center","titleBaseline":"middle","grid":false}},
"y":{"field":"y","type":"quantitative","scale":{"domain":[-0.32,0.2],"nice":false,"zero":false},"axis":{"values":[-0.3,-0.25,-0.2,-0.15,-0.1,-0.05,0,0.05,0.1,0.15,0.2],"labelExpr":"round(datum.value*100)%10==0 ? replace(replace(format(datum.value,'.1f'),'.',','),'−','-') : ''","labelFont":"Liberation Sans","labelFontSize":9,"labelFontWeight":"bold","labelColor":"#222","labelPadding":2,"labelOverlap":false,"labelFlush":false,"tickSize":4,"tickColor":"#999","domainColor":"#999","title":"ΔΣ","titleFont":"Liberation Serif","titleFontSize":22,"titleFontWeight":"normal","titleColor":"#111","titleX":-32,"titleY":71,"titleAngle":270,"titleAlign":"center","titleBaseline":"middle","grid":false}}},
"layer":[
{"transform":[{"filter":"datum.k=='c'&&indexof(datum.s,'o')==0"}],"mark":{"type":"line","color":"#F7931E","strokeWidth":6,"strokeCap":"round","strokeJoin":"round"},"encoding":{"detail":{"field":"s"}}},
{"transform":[{"filter":"datum.k=='c'&&(datum.s=='t'||datum.s=='u'||datum.s=='l'||datum.s=='m')"}],"mark":{"type":"line","color":"#000000","strokeWidth":1.4},"encoding":{"detail":{"field":"s"}}},
{"transform":[{"filter":"datum.k=='dot'"}],"mark":{"type":"rule","color":"#444","strokeWidth":0.9,"strokeDash":[1.2,2.2]},"encoding":{"x2":{"field":"x2"}}},
{"transform":[{"filter":"datum.k=='lego'"}],"mark":{"type":"rule","color":"#F7931E","strokeWidth":6},"encoding":{"x2":{"field":"x2"}}},
{"transform":[{"filter":"datum.k=='legt'"}],"mark":{"type":"rule","color":"#000000","strokeWidth":1.3},"encoding":{"x2":{"field":"x2"}}},
{"transform":[{"filter":"datum.k=='arr'"}],"mark":{"type":"rule","color":"#1a1a9e","strokeWidth":1.3},"encoding":{"x2":{"field":"x2"},"y2":{"field":"y2"}}},
{"transform":[{"filter":"datum.k=='head'"}],"mark":{"type":"point","filled":true,"opacity":1,"color":"#1a1a9e","size":28},"encoding":{"shape":{"field":"d","type":"nominal","scale":{"domain":["up","down","left","right"],"range":["triangle-up","triangle-down","triangle-left","triangle-right"]},"legend":null}}},
{"transform":[{"filter":"datum.k=='box'"}],"mark":{"type":"rect","fillOpacity":0,"stroke":"#8c8c8c","strokeWidth":1},"encoding":{"x2":{"field":"x2"},"y2":{"field":"y2"}}},
{"transform":[{"filter":"datum.k=='boxt'"}],"mark":{"type":"text","font":"Liberation Sans","fontSize":14,"fontWeight":"bold","align":"center","baseline":"middle","color":"#444"},"encoding":{"text":{"field":"t"}}},
{"transform":[{"filter":"datum.k=='lab'"}],"mark":{"type":"text","font":"Liberation Sans","fontSize":12,"align":"left","baseline":"middle","color":"#111"},"encoding":{"text":{"field":"t"}}},
{"transform":[{"filter":"datum.k=='leg'"}],"mark":{"type":"text","font":"Liberation Sans","fontSize":12.5,"align":"left","baseline":"middle","color":"#111"},"encoding":{"text":{"field":"t"}}},
{"transform":[{"filter":"datum.k=='big'"}],"mark":{"type":"text","font":"Liberation Sans","fontSize":17,"align":"center","baseline":"middle","color":"#111"},"encoding":{"text":{"field":"t"}}},
{"transform":[{"filter":"datum.k=='sub'"}],"mark":{"type":"text","font":"Liberation Sans","fontSize":9,"fontStyle":"italic","align":"left","baseline":"middle","color":"#111"},"encoding":{"text":{"field":"t"}}},
{"transform":[{"filter":"datum.k=='rot'"}],"mark":{"type":"text","font":"Liberation Sans","fontSize":13,"angle":270,"align":"left","baseline":"middle","color":"#111"},"encoding":{"text":{"field":"t"}}},
{"transform":[{"filter":"datum.k=='rotsub'"}],"mark":{"type":"text","font":"Liberation Sans","fontSize":9,"fontStyle":"italic","angle":270,"align":"left","baseline":"middle","color":"#111"},"encoding":{"text":{"field":"t"}}}
]},
{"width":220,"height":146,"view":{"stroke":null},"data":{"name":"d"},"transform":[{"filter":"datum.p=='bb'"}],
"encoding":{
"x":{"field":"x","type":"quantitative","scale":{"domain":[1.8,4.5],"nice":false,"zero":false},"axis":{"values":[2,2.5,3,3.5,4],"labelExpr":"datum.value%1==0 ? format(datum.value,'d') : ''","labelFont":"Liberation Sans","labelFontSize":8,"labelColor":"#333","labelPadding":2,"labelOverlap":false,"labelFlush":false,"tickSize":4,"tickColor":"#999","domainColor":"#999","title":"Σ","titleFont":"Liberation Serif","titleFontSize":19,"titleFontWeight":"normal","titleColor":"#111","titleX":105,"titleY":23,"titleAlign":"center","titleBaseline":"middle","grid":false}},
"y":{"field":"y","type":"quantitative","scale":{"domain":[-0.32,0.2],"nice":false,"zero":false},"axis":{"values":[-0.3,-0.25,-0.2,-0.15,-0.1,-0.05,0,0.05,0.1,0.15,0.2],"labelExpr":"round(datum.value*100)%10==0 ? replace(replace(format(datum.value,'.1f'),'.',','),'−','-') : ''","labelFont":"Liberation Sans","labelFontSize":9,"labelFontWeight":"bold","labelColor":"#222","labelPadding":2,"labelOverlap":false,"labelFlush":false,"tickSize":4,"tickColor":"#999","domainColor":"#999","title":"ΔΣ","titleFont":"Liberation Serif","titleFontSize":22,"titleFontWeight":"normal","titleColor":"#111","titleX":-35,"titleY":71,"titleAngle":270,"titleAlign":"center","titleBaseline":"middle","grid":false}}},
"layer":[
{"transform":[{"filter":"datum.k=='c'&&indexof(datum.s,'o')==0"}],"mark":{"type":"line","color":"#F7931E","strokeWidth":6,"strokeCap":"round","strokeJoin":"round"},"encoding":{"detail":{"field":"s"}}},
{"transform":[{"filter":"datum.k=='c'&&(datum.s=='t'||datum.s=='u'||datum.s=='l'||datum.s=='m')"}],"mark":{"type":"line","color":"#000000","strokeWidth":1.4},"encoding":{"detail":{"field":"s"}}},
{"transform":[{"filter":"datum.k=='dot'"}],"mark":{"type":"rule","color":"#444","strokeWidth":0.9,"strokeDash":[1.2,2.2]},"encoding":{"x2":{"field":"x2"}}},
{"transform":[{"filter":"datum.k=='arr'"}],"mark":{"type":"rule","color":"#1a1a9e","strokeWidth":1.3},"encoding":{"x2":{"field":"x2"},"y2":{"field":"y2"}}},
{"transform":[{"filter":"datum.k=='head'"}],"mark":{"type":"point","filled":true,"opacity":1,"color":"#1a1a9e","size":28},"encoding":{"shape":{"field":"d","type":"nominal","scale":{"domain":["up","down","left","right"],"range":["triangle-up","triangle-down","triangle-left","triangle-right"]},"legend":null}}},
{"transform":[{"filter":"datum.k=='box'"}],"mark":{"type":"rect","fillOpacity":0,"stroke":"#8c8c8c","strokeWidth":1},"encoding":{"x2":{"field":"x2"},"y2":{"field":"y2"}}},
{"transform":[{"filter":"datum.k=='boxt'"}],"mark":{"type":"text","font":"Liberation Sans","fontSize":14,"fontWeight":"bold","align":"center","baseline":"middle","color":"#444"},"encoding":{"text":{"field":"t"}}},
{"transform":[{"filter":"datum.k=='big'"}],"mark":{"type":"text","font":"Liberation Sans","fontSize":17,"align":"center","baseline":"middle","color":"#111"},"encoding":{"text":{"field":"t"}}},
{"transform":[{"filter":"datum.k=='g16'"}],"mark":{"type":"text","font":"Liberation Sans","fontSize":16,"align":"left","baseline":"middle","color":"#111"},"encoding":{"text":{"field":"t"}}},
{"transform":[{"filter":"datum.k=='sub'"}],"mark":{"type":"text","font":"Liberation Sans","fontSize":9,"fontStyle":"italic","align":"left","baseline":"middle","color":"#111"},"encoding":{"text":{"field":"t"}}},
{"transform":[{"filter":"datum.k=='rot'"}],"mark":{"type":"text","font":"Liberation Sans","fontSize":13,"angle":270,"align":"left","baseline":"middle","color":"#111"},"encoding":{"text":{"field":"t"}}},
{"transform":[{"filter":"datum.k=='rotsub'"}],"mark":{"type":"text","font":"Liberation Sans","fontSize":9,"fontStyle":"italic","angle":270,"align":"left","baseline":"middle","color":"#111"},"encoding":{"text":{"field":"t"}}}
]}
]
}
